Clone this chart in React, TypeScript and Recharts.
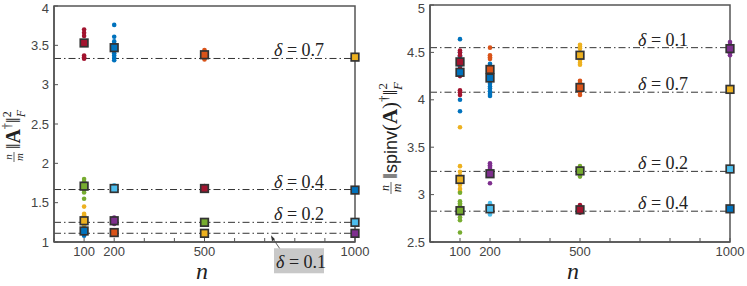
import React from 'react';
import { ScatterChart, Scatter, XAxis, YAxis, ReferenceLine, ReferenceArea } from 'recharts';

// MATLAB default colour order
const PALETTE = ['#0072BD', '#D95319', '#EDB120', '#7E2F8E', '#77AC30', '#4DBEEE', '#A2142F'];

const X_TICKS = [0, 100, 200, 300, 400, 500, 600, 700, 800, 900, 1000];
const X_LABELED = [100, 200, 500, 1000];

const LEFT_Y_TICKS = [1, 1.5, 2, 2.5, 3, 3.5, 4];
const RIGHT_Y_TICKS = [2.5, 3, 3.5, 4, 4.5, 5];

const LEFT_DELTAS = [0.7, 0.4, 0.2, 0.1];
const LEFT_LEVELS = [3.333, 1.667, 1.25, 1.111];
const RIGHT_DELTAS = [0.1, 0.7, 0.2, 0.4];
const RIGHT_LEVELS = [4.55, 4.08, 3.245, 2.825];

// n, colour index, trial values, mean
const LEFT_GROUPS = [
  { n: 100, c: 6, dots: [3.7, 3.66, 3.62, 3.55, 3.51, 3.37, 3.35, 3.33], mean: 3.53 },
  { n: 100, c: 4, dots: [1.8, 1.77, 1.74, 1.69, 1.66, 1.63, 1.55], mean: 1.71 },
  { n: 100, c: 2, dots: [1.45, 1.36, 1.34, 1.31, 1.29, 1.24, 1.21, 1.18, 1.16, 1.13], mean: 1.27 },
  { n: 100, c: 0, dots: [1.17, 1.15, 1.13, 1.11, 1.09, 1.08], mean: 1.14 },
  { n: 200, c: 0, dots: [3.76, 3.61, 3.55, 3.52, 3.49, 3.46, 3.43, 3.4, 3.37, 3.34, 3.31], mean: 3.47 },
  { n: 200, c: 5, dots: [1.72, 1.7, 1.68, 1.67, 1.66], mean: 1.68 },
  { n: 200, c: 3, dots: [1.31, 1.29, 1.27, 1.25, 1.23], mean: 1.27 },
  { n: 200, c: 1, dots: [1.15, 1.13, 1.11, 1.09], mean: 1.12 },
  { n: 500, c: 1, dots: [3.44, 3.42, 3.4, 3.37, 3.34, 3.32], mean: 3.38 },
  { n: 500, c: 6, dots: [1.71, 1.69, 1.67], mean: 1.68 },
  { n: 500, c: 4, dots: [1.26, 1.25, 1.24], mean: 1.25 },
  { n: 500, c: 2, dots: [1.12, 1.11, 1.1], mean: 1.11 },
  { n: 1000, c: 2, dots: [3.36, 3.35, 3.34], mean: 3.35 },
  { n: 1000, c: 0, dots: [1.67, 1.66], mean: 1.66 },
  { n: 1000, c: 5, dots: [1.26, 1.25], mean: 1.25 },
  { n: 1000, c: 3, dots: [1.115, 1.105], mean: 1.11 },
];

const RIGHT_GROUPS = [
  { n: 100, c: 0, dots: [4.64, 4.5, 4.46, 4.35, 4.0, 3.88], mean: 4.29 },
  { n: 100, c: 6, dots: [4.52, 4.5, 4.47, 4.42, 4.38, 4.33, 4.3, 4.27, 4.25, 4.1, 4.08, 4.05], mean: 4.4 },
  { n: 100, c: 2, dots: [3.71, 3.3, 3.24, 3.2, 3.1, 3.06, 3.03], mean: 3.16 },
  { n: 100, c: 4, dots: [3.02, 2.93, 2.91, 2.89, 2.87, 2.85, 2.8, 2.76, 2.73, 2.6], mean: 2.83 },
  { n: 200, c: 1, dots: [4.55, 4.47, 4.45, 4.43, 4.33, 4.3], mean: 4.32 },
  { n: 200, c: 0, dots: [4.38, 4.35, 4.28, 4.25, 4.2, 4.17, 4.14, 4.12, 4.09, 4.06, 4.04], mean: 4.23 },
  { n: 200, c: 3, dots: [3.33, 3.31, 3.29, 3.27, 3.24, 3.12], mean: 3.22 },
  { n: 200, c: 5, dots: [2.91, 2.88, 2.85, 2.82, 2.79], mean: 2.85 },
  { n: 500, c: 2, dots: [4.58, 4.56, 4.54, 4.5, 4.45, 4.42, 4.39, 4.37], mean: 4.47 },
  { n: 500, c: 1, dots: [4.2, 4.18, 4.15, 4.11, 4.08, 4.05], mean: 4.13 },
  { n: 500, c: 4, dots: [3.3, 3.27, 3.25, 3.22, 3.19], mean: 3.25 },
  { n: 500, c: 6, dots: [2.89, 2.86, 2.84, 2.82, 2.81], mean: 2.84 },
  { n: 1000, c: 3, dots: [4.61, 4.58, 4.52, 4.49, 4.47], mean: 4.54 },
  { n: 1000, c: 2, dots: [4.13, 4.11, 4.09], mean: 4.11 },
  { n: 1000, c: 5, dots: [3.28, 3.26], mean: 3.27 },
  { n: 1000, c: 0, dots: [2.86, 2.85], mean: 2.85 },
];

const SERIF = '"Liberation Serif", "Times New Roman", serif';
const SANS = '"Liberation Sans", Arial, sans-serif';
const TICK_STYLE = { fontSize: 13, fill: '#444', fontFamily: SANS };

type Group = { n: number; c: number; dots: number[]; mean: number };

const dotShape = (color: string) => (p: any) =>
  <circle cx={p.cx} cy={p.cy} r={2.3} fill={color} />;

const squareShape = (color: string) => (p: any) =>
  <rect x={p.cx - 3.8} y={p.cy - 3.8} width={7.6} height={7.6} fill={color} stroke="#333" strokeWidth={1.7} />;

// y tick labels; the top one is kept inside the picture
const yTick = (p: any) => (
  <text x={p.x} y={Math.max(p.y, 8)} dy="0.355em" textAnchor="end" {...TICK_STYLE}>
    {p.payload.value}
  </text>
);

const deltaLabel = (delta: number, textX: number, boxed: boolean) => (props: any) => {
  const y = props.viewBox.y;
  const txt = (
    <>
      <tspan fontStyle="italic">δ</tspan>
      {' = ' + delta.toFixed(1)}
    </>
  );
  if (boxed) {
    return (
      <g>
        <line x1={textX + 11} y1={y + 23} x2={textX - 2} y2={y + 4} stroke="#333" strokeWidth={0.8} />
        <polygon points={`${textX - 3},${y + 2} ${textX - 2},${y + 8} ${textX + 1},${y + 6}`} fill="#333" />
        <rect x={textX} y={y + 15} width={50} height={25} fill="#c8c8c8" />
        <text x={textX + 2} y={y + 35} fontFamily={SERIF} fontSize={18} fill="#222">{txt}</text>
      </g>
    );
  }
  return (
    <text x={textX} y={y - 2} fontFamily={SERIF} fontSize={18} fill="#222">{txt}</text>
  );
};

const LeftYTitle = () => (
  <g transform="translate(15,122) rotate(-90)">
    <text x={-35} y={-3} fontFamily={SERIF} fontStyle="italic" fontSize={11} fill="#222" textAnchor="middle">n</text>
    <line x1={-40} x2={-30} y1={-1} y2={-1} stroke="#222" strokeWidth={0.7} />
    <text x={-35} y={8} fontFamily={SERIF} fontStyle="italic" fontSize={11} fill="#222" textAnchor="middle">m</text>
    <text x={-27} y={5} fontFamily={SERIF} fontSize={20} fill="#222">
      <tspan>‖</tspan>
      <tspan fontWeight="bold">A</tspan>
      <tspan fontSize={12} dy={-9}>†</tspan>
      <tspan dy={9}>‖</tspan>
      <tspan fontSize={12} dy={-9}>2</tspan>
      <tspan fontSize={12} fontStyle="italic" dx={-6} dy={14}>F</tspan>
    </text>
  </g>
);

const RightYTitle = () => (
  <g transform="translate(19,124) rotate(-90)">
    <text x={-64} y={-3} fontFamily={SERIF} fontStyle="italic" fontSize={12} fill="#222" textAnchor="middle">n</text>
    <line x1={-70} x2={-58} y1={-1} y2={-1} stroke="#222" strokeWidth={0.7} />
    <text x={-64} y={9} fontFamily={SERIF} fontStyle="italic" fontSize={12} fill="#222" textAnchor="middle">m</text>
    <text x={-55} y={5} fontFamily={SERIF} fontSize={21} fill="#222">
      <tspan>‖</tspan>
      <tspan fontFamily={SANS} fontSize={18}>spinv</tspan>
      <tspan>(</tspan>
      <tspan fontWeight="bold">A</tspan>
      <tspan>)</tspan>
      <tspan fontSize={13} dy={-9}>†</tspan>
      <tspan dy={9}>‖</tspan>
      <tspan fontSize={13} dy={-10}>2</tspan>
      <tspan fontSize={13} fontStyle="italic" dx={-7} dy={15}>F</tspan>
    </text>
  </g>
);

const nTitle = (cx: number) => () => (
  <text x={cx} y={279} fontFamily={SERIF} fontStyle="italic" fontSize={24} fill="#222" textAnchor="middle">n</text>
);

interface PanelProps {
  width: number;
  margin: { top: number; right: number; bottom: number; left: number };
  yWidth: number;
  yDomain: [number, number];
  yTicks: number[];
  deltas: number[];
  levels: number[];
  groups: Group[];
  textX: number;
  boxedDelta?: number;
  yTitle: () => React.ReactElement;
  nX: number;
}

const Panel: React.FC<PanelProps> = ({ width, margin, yWidth, yDomain, yTicks, deltas, levels, groups, textX, boxedDelta, yTitle, nX }) => (
  <ScatterChart width={width} height={286} margin={margin}>
    <XAxis
      type="number"
      dataKey="x"
      domain={[0, 1000]}
      ticks={X_TICKS}
      interval={0}
      tickFormatter={(v: number) => (X_LABELED.includes(v) ? String(v) : '')}
      height={44}
      tickSize={-4}
      tickMargin={9}
      tick={TICK_STYLE}
      axisLine={{ stroke: '#555', strokeWidth: 1.5 }}
      tickLine={{ stroke: '#555' }}
      label={nTitle(nX)}
    />
    <YAxis
      type="number"
      dataKey="y"
      domain={yDomain}
      ticks={yTicks}
      interval={0}
      width={yWidth}
      tickSize={-4}
      tickMargin={9}
      tick={yTick}
      axisLine={{ stroke: '#555', strokeWidth: 1.5 }}
      tickLine={{ stroke: '#555' }}
      label={yTitle}
    />
    <ReferenceArea x1={0} x2={1000} y1={yDomain[0]} y2={yDomain[1]} fill="none" fillOpacity={0} stroke="#555" strokeWidth={1.5} />
    {levels.map((lv, i) => (
      <ReferenceLine
        key={`ref-${i}`}
        y={lv}
        stroke="#333"
        strokeWidth={1}
        strokeDasharray="7 3 1.5 3"
        label={deltaLabel(deltas[i], textX, deltas[i] === boxedDelta)}
      />
    ))}
    {groups.map((g, i) => (
      <Scatter
        key={`dots-${i}`}
        data={g.dots.map(v => ({ x: g.n, y: v }))}
        shape={dotShape(PALETTE[g.c])}
        isAnimationActive={false}
      />
    ))}
    {groups.map((g, i) => (
      <Scatter
        key={`mean-${i}`}
        data={[{ x: g.n, y: g.mean }]}
        shape={squareShape(PALETTE[g.c])}
        isAnimationActive={false}
      />
    ))}
  </ScatterChart>
);

const App: React.FC = () => (
  <div style={{ position: 'absolute', left: 0, top: 0, width: 747, height: 286, background: '#fff' }}>
    <div style={{ position: 'absolute', left: 0, top: 0 }}>
      <Panel
        width={373}
        margin={{ top: 6, right: 18, bottom: 0, left: 0 }}
        yWidth={54}
        yDomain={[1, 4]}
        yTicks={LEFT_Y_TICKS}
        deltas={LEFT_DELTAS}
        levels={LEFT_LEVELS}
        groups={LEFT_GROUPS}
        textX={274}
        boxedDelta={0.1}
        yTitle={LeftYTitle}
        nX={202}
      />
    </div>
    <div style={{ position: 'absolute', left: 373, top: 0 }}>
      <Panel
        width={374}
        margin={{ top: 5, right: 17, bottom: 0, left: 0 }}
        yWidth={57}
        yDomain={[2.5, 5]}
        yTicks={RIGHT_Y_TICKS}
        deltas={RIGHT_DELTAS}
        levels={RIGHT_LEVELS}
        groups={RIGHT_GROUPS}
        textX={265}
        yTitle={RightYTitle}
        nX={200}
      />
    </div>
  </div>
);

export default App;
